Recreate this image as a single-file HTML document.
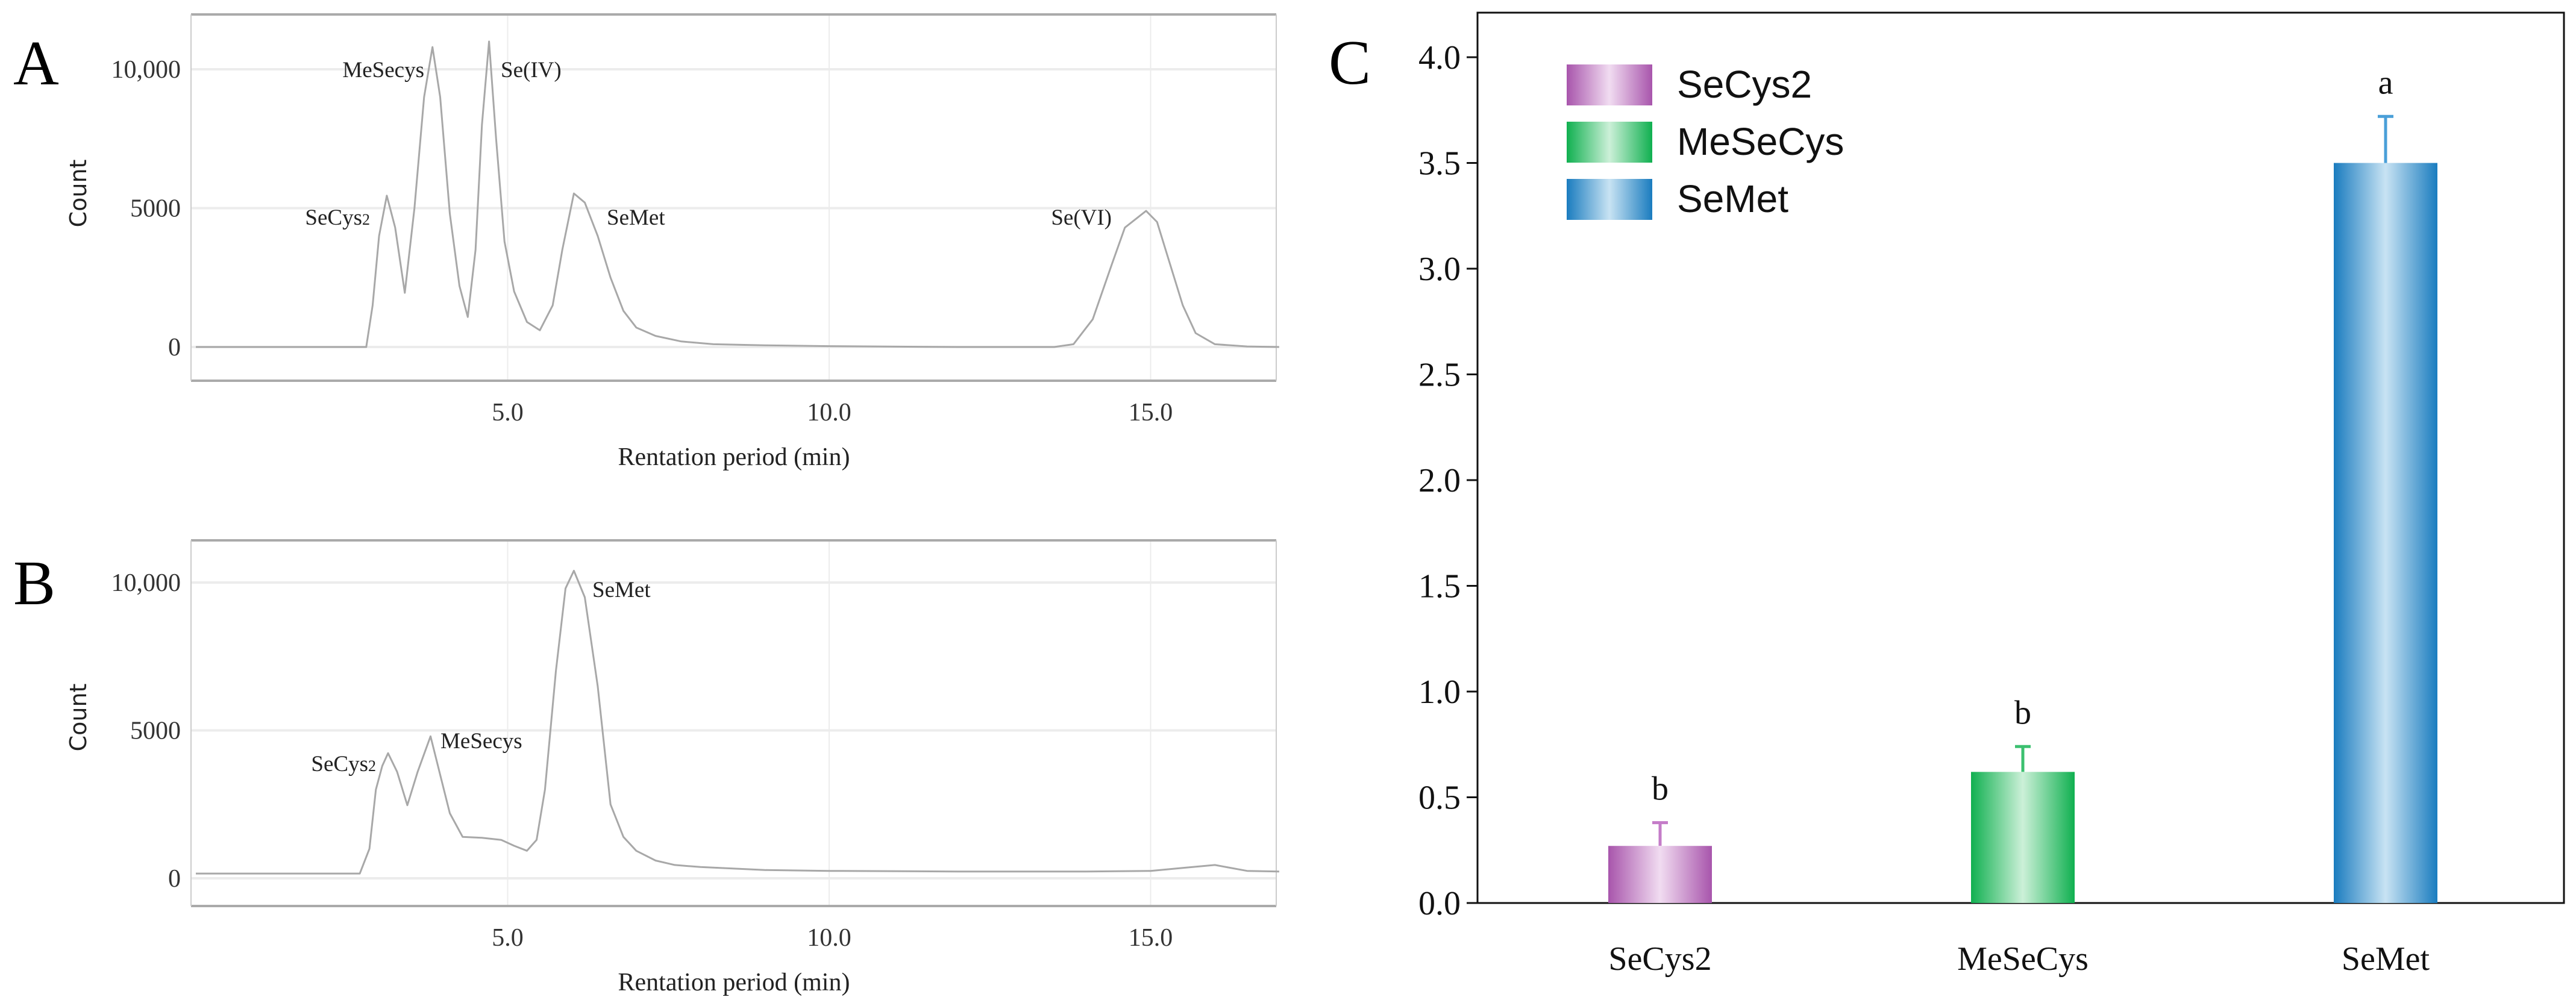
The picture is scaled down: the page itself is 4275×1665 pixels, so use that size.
<!DOCTYPE html>
<html><head><meta charset="utf-8"><style>
html,body{margin:0;padding:0;background:#fff;}
svg{display:block;font-family:"Liberation Serif",serif;}
</style></head><body>
<svg id="fig" width="4275" height="1665" viewBox="0 0 4275 1665" xmlns="http://www.w3.org/2000/svg">
<defs>
<linearGradient id="gPink" x1="0" x2="1"><stop offset="0" stop-color="#a855ac"/><stop offset="0.5" stop-color="#f1dcf1"/><stop offset="1" stop-color="#a855ac"/></linearGradient>
<linearGradient id="gGreen" x1="0" x2="1"><stop offset="0" stop-color="#10b050"/><stop offset="0.5" stop-color="#ccf0d8"/><stop offset="1" stop-color="#10b050"/></linearGradient>
<linearGradient id="gBlue" x1="0" x2="1"><stop offset="0" stop-color="#1a7cbf"/><stop offset="0.5" stop-color="#c8e3f3"/><stop offset="1" stop-color="#1a7cbf"/></linearGradient>
</defs>
<g id="panelA"></g>
<g id="panelB"></g>
<g id="panelC"></g>
</svg>
<script>
// ---- Chromatogram data ----
const aTimes  = [0.15,1,2,2.8,2.9,3.0,3.12,3.25,3.4,3.55,3.7,3.83,3.95,4.1,4.25,4.38,4.5,4.6,4.71,4.82,4.95,5.1,5.3,5.5,5.7,5.85,6.03,6.2,6.4,6.6,6.8,7.0,7.3,7.7,8.2,9,10,12,13.5,13.8,14.1,14.4,14.6,14.93,15.1,15.3,15.5,15.7,16,16.5,17];
const aCounts = [0,0,0,0,1500,4000,5450,4300,1950,5000,9000,10800,9000,4800,2200,1080,3500,8000,11000,7500,3800,2000,900,600,1500,3500,5530,5200,4000,2500,1300,700,400,200,100,60,30,0,0,100,1000,3000,4300,4900,4500,3000,1500,500,100,20,0];
const bTimes  = [0.15,1,2,2.7,2.85,2.95,3.05,3.14,3.28,3.44,3.6,3.8,3.95,4.1,4.3,4.6,4.9,5.1,5.3,5.45,5.58,5.75,5.9,6.03,6.2,6.4,6.6,6.8,7.0,7.3,7.6,8,9,10,12,14,15,15.5,16,16.5,17];
const bCounts = [160,160,160,160,1000,3000,3800,4230,3600,2470,3600,4800,3500,2200,1400,1370,1300,1100,930,1300,3000,7000,9800,10400,9500,6500,2500,1400,930,600,450,380,280,250,230,230,250,350,450,250,230];
const xTicks = [5,10,15];
const xTickLabels = ["5.0","10.0","15.0"];
const yTicksAB = [0,5000,10000];
const yTickLabelsAB = ["0","5000","10,000"];
// ---- Bar chart data ----
const categories = ["SeCys2","MeSeCys","SeMet"];
const barValues = [0.27,0.62,3.5];
const barErrors = [0.11,0.12,0.22];
const sigLetters = ["b","b","a"];
const yTicksC = [0,0.5,1,1.5,2,2.5,3,3.5,4];
const yTickLabelsC = ["0.0","0.5","1.0","1.5","2.0","2.5","3.0","3.5","4.0"];

const NS="http://www.w3.org/2000/svg";
function mk(parent,tag,attrs,text){const e=document.createElementNS(NS,tag);for(const k in attrs)e.setAttribute(k,attrs[k]);if(text!==undefined)e.textContent=text;parent.appendChild(e);return e;}

function chrom(gid,times,counts,cfg){
  const g=document.getElementById(gid);
  const L=317,R=2118;
  const xs=t=>309+t*106.7;
  const ys=c=>cfg.y0-c*cfg.k;
  yTicksAB.forEach((v,i)=>{
    const gl=mk(g,'line',{x1:L,x2:R,y1:ys(v),y2:ys(v),stroke:'#ececec','stroke-width':4});
    
    
    const t=mk(g,'text',{x:300,y:ys(v)+14,'text-anchor':'end','font-size':42,fill:'#333'},yTickLabelsAB[i]);
    
    
  });
  xTicks.forEach((v,i)=>{
    const gl=mk(g,'line',{x1:xs(v),x2:xs(v),y1:cfg.top,y2:cfg.bot,stroke:'#ececec','stroke-width':2});
    
    
    const t=mk(g,'text',{x:xs(v),y:cfg.bot+66,'text-anchor':'middle','font-size':42,fill:'#333'},xTickLabels[i]);
    
    
  });
  let f=mk(g,'line',{x1:L,x2:R,y1:cfg.top,y2:cfg.top,stroke:'#aaa','stroke-width':4});
  
  f=mk(g,'line',{x1:L,x2:R,y1:cfg.bot,y2:cfg.bot,stroke:'#aaa','stroke-width':4});
  
  f=mk(g,'line',{x1:L,x2:L,y1:cfg.top,y2:cfg.bot,stroke:'#ccc','stroke-width':2});
  
  f=mk(g,'line',{x1:R,x2:R,y1:cfg.top,y2:cfg.bot,stroke:'#ccc','stroke-width':2});
  
  const d=times.map((t,i)=>(i?'L':'M')+xs(t).toFixed(1)+','+ys(counts[i]).toFixed(1)).join('');
  const p=mk(g,'path',{d:d,fill:'none',stroke:'#a8a8a8','stroke-width':3,'stroke-linejoin':'round'});
  
  
  cfg.labels.forEach(l=>{
    const t=mk(g,'text',{x:l[1],y:l[2]+13,'text-anchor':l[3],'font-size':37,fill:'#222'});
    t.innerHTML=l[0];
    
    
  });
  const yt=mk(g,'text',{x:0,y:0,transform:`translate(143,${cfg.cy}) rotate(-90)`,'text-anchor':'middle','font-size':38,fill:'#222','font-family':'DejaVu Sans, sans-serif'},'Count');
  
  const xt=mk(g,'text',{x:1218,y:cfg.bot+140,'text-anchor':'middle','font-size':42,fill:'#222'},'Rentation period (min)');
  
  const pl=mk(g,'text',{x:22,y:cfg.ly,'font-size':105,fill:'#000'},cfg.letter);
  
}
chrom('panelA',aTimes,aCounts,{y0:576,k:0.0461,top:24,bot:632,cy:321,ly:140,letter:'A',
  labels:[['MeSecys',704,115,'end'],['Se(IV)',831,115,'start'],['SeCys<tspan font-size="26">2</tspan>',614,360,'end'],['SeMet',1007,360,'start'],['Se(VI)',1845,360,'end']]});
chrom('panelB',bTimes,bCounts,{y0:1458,k:0.0491,top:897,bot:1504,cy:1191,ly:1003,letter:'B',
  labels:[['SeMet',983,978,'start'],['MeSecys',731,1229,'start'],['SeCys<tspan font-size="26">2</tspan>',624,1267,'end']]});

(function(){
  const g=document.getElementById('panelC');
  const L=2452,R=4255,T=21,B=1499;
  const ys=v=>B-v*351;
  const xc=i=>2755+i*602;
  const bw=172;
  const fills=['url(#gPink)','url(#gGreen)','url(#gBlue)'];
  const errCol=['#c47cc8','#3cc070','#4a9fd8'];
  let f=mk(g,'rect',{x:L,y:T,width:R-L,height:B-T,fill:'none',stroke:'#111','stroke-width':3});
  
  yTicksC.forEach((v,i)=>{
    const tk=mk(g,'line',{x1:L-18,x2:L,y1:ys(v),y2:ys(v),stroke:'#111','stroke-width':3});
    
    const t=mk(g,'text',{x:L-28,y:ys(v)+19,'text-anchor':'end','font-size':56,fill:'#111'},yTickLabelsC[i]);
    
  });
  categories.forEach((c,i)=>{
    const v=barValues[i],e=barErrors[i];
    const el=mk(g,'line',{x1:xc(i),x2:xc(i),y1:ys(v),y2:ys(v+e),stroke:errCol[i],'stroke-width':5});
    
    const cap=mk(g,'line',{x1:xc(i)-13,x2:xc(i)+13,y1:ys(v+e),y2:ys(v+e),stroke:errCol[i],'stroke-width':5});
    
    const r=mk(g,'rect',{x:xc(i)-bw/2,y:ys(v),width:bw,height:B-ys(v),fill:fills[i]});
    
    const s=mk(g,'text',{x:xc(i),y:ys(v+e)-38,'text-anchor':'middle','font-size':56,fill:'#111'},sigLetters[i]);
    
    const xl=mk(g,'text',{x:xc(i),y:1610,'text-anchor':'middle','font-size':56,fill:'#111'},c);
    
  });
  categories.forEach((c,i)=>{
    const y=107+i*95;
    const sw=mk(g,'rect',{x:2600,y:y,width:142,height:68,fill:fills[i]});
    
    const t=mk(g,'text',{x:2783,y:y+55,'font-size':64,fill:'#111','font-family':'Liberation Sans, sans-serif'},c);
    
  });
  const pl=mk(g,'text',{x:2205,y:139,'font-size':105,fill:'#000'},'C');
  
})();
</script>
</body></html>
